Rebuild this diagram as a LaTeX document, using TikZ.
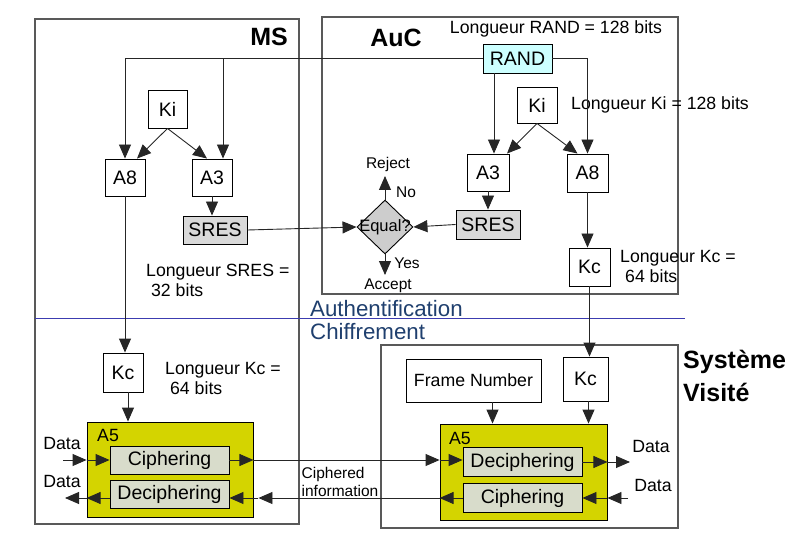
\documentclass[tikz,border=0pt]{standalone}
\usepackage{fontspec}
\setmainfont{Liberation Sans}
\usetikzlibrary{arrows.meta,shapes.geometric}
\definecolor{randblue}{HTML}{CCFFFF}
\definecolor{a5yellow}{HTML}{D4D400}
\definecolor{subfill}{HTML}{D8DCCB}
\definecolor{sresgrey}{HTML}{D9D9D9}
\definecolor{eqgrey}{HTML}{CDCDCD}
\definecolor{sepblue}{HTML}{3C3CB0}
\definecolor{phaseblue}{HTML}{1F3F6E}
\begin{document}
\begin{tikzpicture}[x=1pt,y=-1pt,
  frame/.style={draw=black!65, line width=1.4pt},
  box/.style={draw, line width=0.9pt, fill=white, inner sep=0pt,
    font=\fontsize{19.5}{22}\selectfont},
  greybox/.style={box, fill=sresgrey},
  subbox/.style={box, fill=subfill, minimum width=119, minimum height=28},
  a5box/.style={draw, line width=0.9pt, fill=a5yellow, inner sep=0pt},
  decision/.style={diamond, draw, line width=0.9pt, fill=eqgrey, inner sep=0pt},
  note/.style={font=\fontsize{17.7}{20}\selectfont, align=left, inner sep=0pt},
  small/.style={font=\fontsize{15.5}{18}\selectfont, align=left, inner sep=0pt},
  title/.style={font=\fontsize{25}{33}\selectfont\bfseries, align=left, inner sep=0pt},
  phase/.style={font=\fontsize{22.3}{24}\selectfont, text=phaseblue, inner sep=0pt},
  link/.style={line width=0.9pt, draw=black!85, arrows={-Triangle[length=14pt,width=12pt]}},
  wire/.style={line width=0.9pt, draw=black!85}]
  \useasboundingbox (0,0) rectangle (812,559);

  \draw[frame] (35,19) rectangle (299,524);
  \draw[frame] (322,17) rectangle (678,294);
  \draw[frame] (381,345) rectangle (678,528);
  \draw[sepblue, line width=0.8pt] (35,318) -- (685,318);

  \node[title, anchor=east] (tms) at (288,37) {MS};
  \node[title] (tauc) at (396,38) {AuC};
  \node[title, anchor=west] (tsv) at (683,376) {Système\\Visité};
  \node[phase, anchor=base west] (pauth) at (310,316) {Authentification};
  \node[phase, anchor=base west] (pchif) at (310,339) {Chiffrement};

  \node[note] (lrand) at (556,29) {Longueur RAND = 128 bits};
  \node[box, fill=randblue, minimum width=69, minimum height=29] (rand) at (517.5,58.5) {RAND};

  \node[box, minimum width=39, minimum height=38] (kims) at (167.5,109) {Ki};
  \node[box, minimum width=40, minimum height=37] (a8ms) at (125,177.5) {A8};
  \node[box, minimum width=40, minimum height=37] (a3ms) at (212,177.5) {A3};
  \node[greybox, minimum width=64, minimum height=28] (sresms) at (215,230) {SRES};
  \node[note, anchor=west] (lsres) at (146,280) {Longueur SRES =\\\hspace*{0.28em}32 bits};

  \node[box, minimum width=40, minimum height=36] (kiauc) at (537,105) {Ki};
  \node[note] (lki) at (660,105) {Longueur Ki = 128 bits};
  \node[box, minimum width=42, minimum height=37] (a3auc) at (488,172.5) {A3};
  \node[box, minimum width=41, minimum height=38] (a8auc) at (587.5,173) {A8};
  \node[greybox, minimum width=64, minimum height=29] (sresauc) at (488,224.5) {SRES};
  \node[box, minimum width=41, minimum height=38] (kcauc) at (589.5,267) {Kc};
  \node[note, anchor=west] (lkcauc) at (620,266) {Longueur Kc =\\\hspace*{0.28em}64 bits};

  \node[decision, minimum width=56, minimum height=54,
    label={[small, font=\fontsize{16.5}{18}\selectfont]center:Equal?}] (eq) at (385,227) {};
  \node[small] (reject) at (388,164) {Reject};
  \node[small] (no) at (406,192) {No};
  \node[small] (yes) at (407,263) {Yes};
  \node[small] (accept) at (388,286) {Accept};
  \coordinate (rej) at (385,176);
  \coordinate (acc) at (385,275);

  \node[box, minimum width=40, minimum height=39] (kcms) at (123,372.5) {Kc};
  \node[note, anchor=west] (lkcms) at (165,378) {Longueur Kc =\\\hspace*{0.28em}64 bits};
  \node[a5box, minimum width=166, minimum height=95] (a5ms) at (170,469.5) {};
  \node[note, anchor=west] (la5ms) at (97,435) {A5};
  \node[subbox] (ciphms) at (169.5,460) {Ciphering};
  \node[subbox] (deciphms) at (169.5,494.5) {Deciphering};
  \node[note] (dinms) at (62,443) {Data};
  \node[note] (doutms) at (62,481) {Data};
  \coordinate (inms) at (63,460);
  \coordinate (outms) at (65,498);

  \node[small] (ciphered) at (340,482) {Ciphered\\information};

  \node[box, font=\fontsize{17.7}{20}\selectfont, minimum width=135,
    minimum height=43] (frame) at (473.5,380.5) {Frame Number};
  \node[box, minimum width=45, minimum height=44] (kcsv) at (585.5,379) {Kc};
  \node[a5box, minimum width=167, minimum height=96] (a5sv) at (523.5,472) {};
  \node[note] (la5sv) at (460,438) {A5};
  \node[subbox, minimum height=29] (deciphsv) at (522.5,462) {Deciphering};
  \node[subbox, minimum height=29] (ciphsv) at (522.5,498) {Ciphering};
  \node[note] (doutsv) at (651,446) {Data};
  \node[note] (dinsv) at (653,485) {Data};
  \coordinate (outsv) at (630,462);
  \coordinate (insv) at (628,498);

  \coordinate (r8) at (a8ms.north);
  \coordinate (r3) at ([xshift=11pt]a3ms.north);
  \draw[link] (rand.west) -| (r8);
  \draw[link] (r3 |- rand.west) -- (r3);
  \draw[link] (kims.south) -- ([xshift=12pt]a8ms.north);
  \draw[link] (kims.south) -- ([xshift=-5pt]a3ms.north);
  \draw[link] (a3ms.south) -- (a3ms.south |- sresms.north);
  \draw[link] (sresms.east) -- (eq.west);

  \coordinate (q3) at ([xshift=6pt]a3auc.north);
  \draw[link] (q3 |- rand.south) -- (q3);
  \draw[link] (rand.east) -| (a8auc.north);
  \draw[link] (kiauc.south) -- ([xshift=19pt]a3auc.north);
  \draw[link] (kiauc.south) -- ([xshift=-10pt]a8auc.north);
  \draw[link] (a3auc.south) -- (sresauc.north);
  \draw[link] (sresauc.west) -- (eq.east);
  \draw[link] (a8auc.south) -- (a8auc.south |- kcauc.north);
  \draw[link] (eq.north) -- (rej);
  \draw[link] (eq.south) -- (acc);

  \draw[link] (a8ms.south) -- (a8ms.south |- kcms.north);
  \draw[link] ([xshift=5pt]kcms.south) -- ([xshift=5pt]kcms.south |- a5ms.north);
  \draw[link] (kcauc.south) -- (kcauc.south |- kcsv.north);
  \draw[link] ([xshift=19pt]frame.south) -- ([xshift=19pt]frame.south |- a5sv.north);
  \draw[link] ([xshift=3pt]kcsv.south) -- ([xshift=3pt]kcsv.south |- a5sv.north);

  \draw[link] (inms) -- (inms -| a5ms.west);
  \draw[link] (inms -| a5ms.west) -- (ciphms.west);
  \draw[link] (ciphms.east) -- (ciphms.east -| a5ms.east);
  \draw[link] (ciphms.east -| a5ms.east) -- (ciphms.east -| a5sv.west);
  \draw[link] (ciphms.east -| a5sv.west) -- (ciphms.east -| deciphsv.west);
  \draw[link] (deciphsv.east) -- (deciphsv.east -| a5sv.east);
  \draw[link] (deciphsv.east -| a5sv.east) -- (outsv);

  \draw[link] (insv) -- (insv -| a5sv.east);
  \draw[link] (insv -| a5sv.east) -- (ciphsv.east);
  \draw[link] (ciphsv.west) -- (ciphsv.west -| a5sv.west);
  \draw[link] (ciphsv.west -| a5sv.west) -- ([xshift=5pt]ciphsv.west -| a5ms.east);
  \draw[wire] ([xshift=5pt]ciphsv.west -| a5ms.east) -- (ciphsv.west -| a5ms.east);
  \draw[link] (ciphsv.west -| a5ms.east) -- (ciphsv.west -| deciphms.east);
  \draw[link] (deciphms.west |- outms) -- (outms -| a5ms.west);
  \draw[link] (outms -| a5ms.west) -- (outms);
\end{tikzpicture}
\end{document}
